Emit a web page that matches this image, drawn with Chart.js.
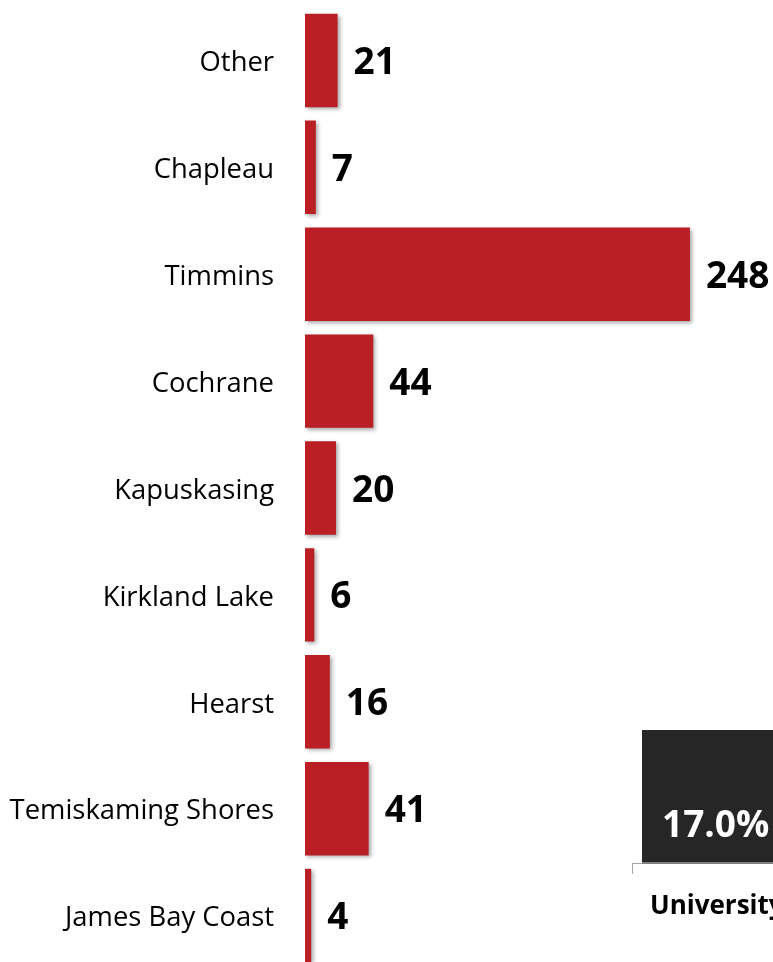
<!DOCTYPE html>
<html>
<head>
<meta charset="utf-8">
<script src="https://cdn.jsdelivr.net/npm/chart.js@4.4.0/dist/chart.umd.min.js"></script>
<style>
  html, body { margin: 0; padding: 0; background: #fff; overflow: hidden; }
  body { width: 773px; height: 962px; position: relative; font-family: "Open Sans", "Noto Sans", sans-serif; }
  #wrap { position: absolute; left: 0; top: 0; width: 773px; height: 975px; }
  #darkBox { position: absolute; left: 642px; top: 730px; width: 160px; height: 132px;
    background: #262626; border-bottom: 2px solid #7f7f7f; }
  #darkBox span { position: absolute; left: 20px; top: 71px; color: #fff; font-weight: bold; font-size: 37px; line-height: 1.2; }
  #tick { position: absolute; left: 632px; top: 863px; width: 1px; height: 11px; background: #a6a6a6; }
  #tickH { position: absolute; left: 632px; top: 863px; width: 10px; height: 1px; background: #a6a6a6; }
  #univ { position: absolute; left: 650px; top: 889px; font-weight: bold; font-size: 26px; line-height: 1.2; color: #000; white-space: nowrap; }
</style>
</head>
<body>
<div id="wrap"><canvas id="chartRegions"></canvas></div>
<div id="darkBox"><span>17.0%</span></div>
<div id="tick"></div>
<div id="tickH"></div>
<div id="univ">University</div>
<script>
// Données
const regions = ['Other', 'Chapleau', 'Timmins', 'Cochrane', 'Kapuskasing', 'Kirkland Lake', 'Hearst', 'Temiskaming Shores', 'James Bay Coast'];
const counts = [21, 7, 248, 44, 20, 6, 16, 41, 4];

// Ombre portée des barres
const barShadow = {
    id: 'barShadow',
    beforeDatasetDraw(chart) {
        const ctx = chart.ctx;
        ctx.save();
        ctx.shadowColor = 'rgba(0,0,0,0.35)';
        ctx.shadowBlur = 4;
        ctx.shadowOffsetX = 2;
        ctx.shadowOffsetY = 2;
    },
    afterDatasetDraw(chart) {
        chart.ctx.restore();
    }
};

// Étiquettes de valeurs au bout des barres
const valueLabels = {
    id: 'valueLabels',
    afterDatasetsDraw(chart) {
        const ctx = chart.ctx;
        const meta = chart.getDatasetMeta(0);
        ctx.save();
        ctx.font = 'bold 37px "Open Sans", "Noto Sans", sans-serif';
        ctx.fillStyle = '#000';
        ctx.textAlign = 'left';
        ctx.textBaseline = 'middle';
        meta.data.forEach((bar, i) => {
            ctx.fillText(String(counts[i]), bar.x + 16, bar.y + 3);
        });
        ctx.restore();
    }
};

const canvas = document.getElementById('chartRegions');

new Chart(canvas, {
    type: 'bar',
    data: {
        labels: regions,
        datasets: [{
            data: counts,
            backgroundColor: '#BA1F25',
            borderWidth: 0,
            barPercentage: 0.92,
            categoryPercentage: 0.95
        }]
    },
    options: {
        indexAxis: 'y',
        responsive: true,
        maintainAspectRatio: false,
        animation: false,
        layout: { padding: { top: 7, bottom: 6, left: 0, right: 0 } },
        plugins: {
            legend: { display: false },
            tooltip: { enabled: false }
        },
        scales: {
            x: {
                display: false,
                min: 0,
                max: 301.5
            },
            y: {
                grid: { display: false },
                border: { display: false },
                ticks: {
                    color: '#000',
                    padding: 23,
                    labelOffset: 3,
                    font: { family: '"Open Sans", "Noto Sans", sans-serif', size: 27.4 }
                },
                afterFit(scale) {
                    scale.width = 305;
                    // pas de marge verticale ajoutée par les étiquettes
                    scale.paddingTop = 0;
                    scale.paddingBottom = 0;
                }
            }
        }
    },
    plugins: [barShadow, valueLabels]
});
</script>
</body>
</html>
